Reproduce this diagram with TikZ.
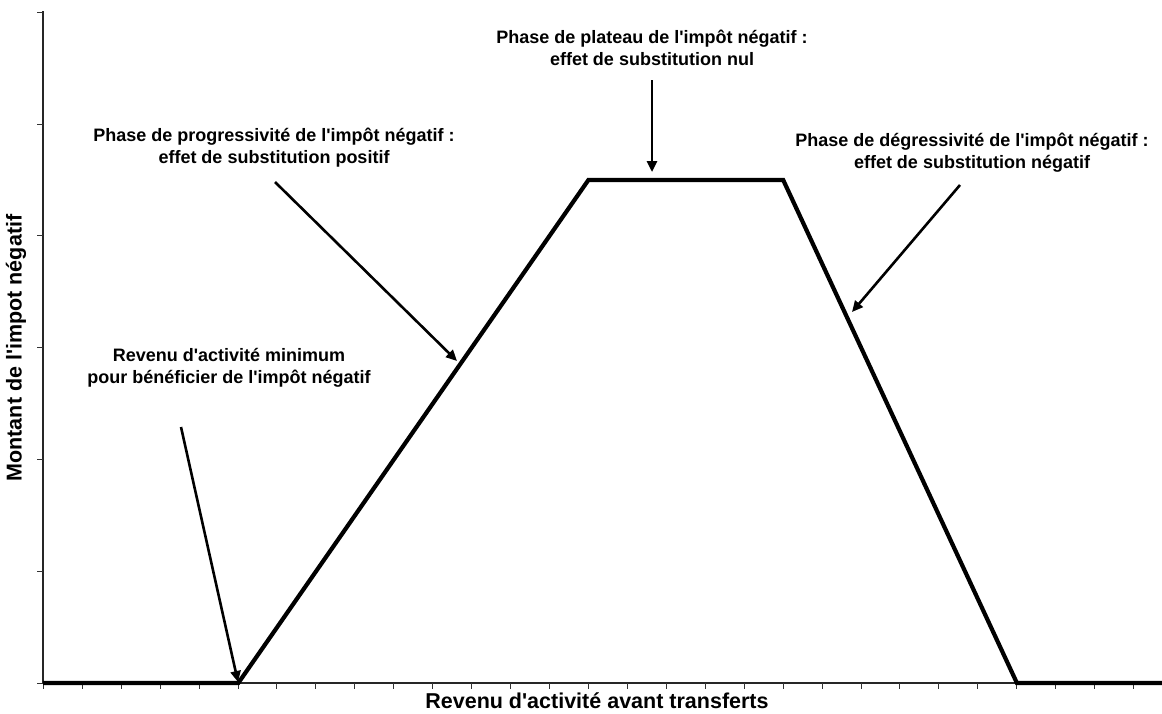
\documentclass[tikz,border=0pt]{standalone}
\usepackage{fontspec}
\setmainfont{Liberation Sans}
\usetikzlibrary{arrows.meta}
\newcommand{\ap}{\textquotesingle}
\tikzset{
  note/.style={font=\bfseries\fontsize{18}{22}\selectfont, align=center, inner sep=0pt},
  axislabel/.style={font=\bfseries\fontsize{21.5}{25}\selectfont, inner sep=0pt},
  curve/.style={line width=4.2pt, line join=miter},
  pointer/.style={line width=2.6pt, -{Triangle[length=11pt,width=10pt]}},
  axisline/.style={line width=1.3pt, black!85},
  tickline/.style={line width=1pt, black!80}
}
\begin{document}
\begin{tikzpicture}[x=1pt,y=-1pt]
\useasboundingbox (0,0) rectangle (1162,713);
% axes
\coordinate (O) at (43,683);
\coordinate (Ytop) at (43,11);
\coordinate (Xend) at (1162,683);
\draw[axisline] (Ytop) -- (O) -- (Xend);
\foreach \k in {0,...,6} {
  \draw[tickline] (37,{683-\k*111.8}) -- (43,{683-\k*111.8});
}
\foreach \k in {0,...,28} {
  \draw[tickline] ({43.3+\k*38.94},683) -- ({43.3+\k*38.94},689);
}
% curve
\coordinate (A) at (43,683);
\coordinate (B) at (238.3,683);
\coordinate (C) at (588.4,180);
\coordinate (D) at (783.2,180);
\coordinate (E) at (1016.9,683);
\coordinate (F) at (1162,683);
\draw[curve] (A) -- (B) -- (C) -- (D) -- (E) -- (F);
% labels
\node[axislabel, rotate=90] (ylab) at (16,348) {Montant de l\ap impot négatif};
\node[axislabel] (xlab) at (597,701) {Revenu d\ap activité avant transferts};
\node[note] (n1) at (229,368) {Revenu d\ap activité minimum\\pour bénéficier de l\ap impôt négatif};
\node[note] (n2) at (274,148) {Phase de progressivité de l\ap impôt négatif :\\effet de substitution positif};
\node[note] (n3) at (652,48) {Phase de plateau de l\ap impôt négatif :\\effet de substitution nul};
\node[note] (n4) at (972,153) {Phase de dégressivité de l\ap impôt négatif :\\effet de substitution négatif};
% arrows
\coordinate (s1) at (181,427); \coordinate (t1) at (238,682);
\coordinate (s2) at (275,182); \coordinate (t2) at (457,361);
\coordinate (s3) at (652,80);  \coordinate (t3) at (652,172);
\coordinate (s4) at (960,185); \coordinate (t4) at (852,312);
\draw[pointer] (s1) -- (t1);
\draw[pointer] (s2) -- (t2);
\draw[pointer] (s3) -- (t3);
\draw[pointer] (s4) -- (t4);
\end{tikzpicture}
\end{document}
